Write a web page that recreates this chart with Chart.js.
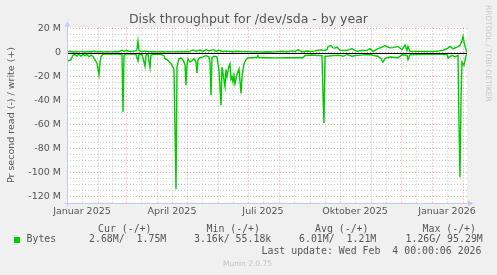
<!DOCTYPE html>
<html>
<head>
<meta charset="utf-8">
<script src="https://cdn.jsdelivr.net/npm/chart.js@4.4.1/dist/chart.umd.min.js"></script>
<style>
  html, body { margin: 0; padding: 0; background: #f0f0f0; }
  #wrap { position: relative; width: 497px; height: 275px; overflow: hidden; }
  canvas { position: absolute; left: 0; top: 0; }
  .t { position: absolute; white-space: pre; color: #555; line-height: 1; }
  .mono { font-family: "DejaVu Sans Mono", monospace; font-size: 9.9px; }
  .title { font-family: "DejaVu Sans", sans-serif; font-size: 12.5px; left: 0; width: 497px; text-align: center; top: 13.4px; }
  .foot { font-family: "DejaVu Sans", sans-serif; font-size: 7.5px; color: #c4c4c4; left: 223px; top: 260.3px; }
  .side { font-family: "DejaVu Sans", sans-serif; font-size: 7.5px; color: #c8c8c8; writing-mode: vertical-rl; left: 484.8px; top: 5px; }
  .box { position: absolute; left: 14px; top: 236.5px; width: 6px; height: 6px; background: #00cc00; }
</style>
</head>
<body>
<div id="wrap">
  <canvas id="disk-canvas" width="497" height="275"></canvas>
  <div class="t title">Disk throughput for /dev/sda - by year</div>
  <div class="t side">RRDTOOL / TOBI OETIKER</div>
  <div class="t mono" style="left:98px;top:223.5px">Cur (-/+)</div>
  <div class="t mono" style="left:206.5px;top:223.5px">Min (-/+)</div>
  <div class="t mono" style="left:315px;top:223.5px">Avg (-/+)</div>
  <div class="t mono" style="left:422.5px;top:223.5px">Max (-/+)</div>
  <div class="box"></div>
  <div class="t mono" style="left:26.5px;top:234px">Bytes</div>
  <div class="t mono" style="left:89px;top:234px">2.68M/  1.75M</div>
  <div class="t mono" style="left:194px;top:234px">3.16k/ 55.18k</div>
  <div class="t mono" style="left:299px;top:234px">6.01M/  1.21M</div>
  <div class="t mono" style="left:405.5px;top:234px">1.26G/ 95.29M</div>
  <div class="t mono" style="left:261.5px;top:246px">Last update: Wed Feb  4 00:00:06 2026</div>
  <div class="t foot">Munin 2.0.75</div>
</div>
<script>
// days counted from 1 Jan 2025, values in MB/s (read is negative)
const readDays = [0, 2, 4, 6, 8, 10, 12, 14, 16, 18, 20, 22, 24, 26, 28, 30, 32, 33, 34, 36, 40, 44, 48, 52, 55, 56, 57, 58, 62, 66, 69, 71, 72, 75, 77, 78, 79, 81, 83, 84, 86, 90, 94, 97, 98, 101, 104, 106, 107, 109, 110, 112, 114, 116, 118, 119, 120, 121, 123, 125, 127, 129, 130, 131, 133, 136, 139, 142, 143, 144, 145, 147, 150, 152, 154, 155, 156, 158, 159, 160, 162, 163, 164, 165, 166, 167, 168, 170, 172, 174, 175, 177, 179, 181, 186, 190, 191, 192, 200, 210, 220, 230, 236, 238, 245, 250, 255, 256, 257, 258, 262, 266, 270, 273, 276, 280, 285, 290, 296, 303, 306, 311, 314, 316, 318, 320, 323, 331, 335, 340, 341, 343, 350, 360, 370, 380, 381, 385, 388, 391, 392, 393, 394, 395, 397, 399, 400];
const readValues = [-7, -6.5, -6, -2, -1.5, -2.8, -1.2, -3, -1.5, -2.5, -1.5, -3.5, -2, -3.2, -6, -9, -18.5, -8, -3.5, -1.2, -1, -1.3, -0.9, -1.2, -1.5, -49.5, -3, -1, -1.2, -1, -1.5, -7, -1.5, -1.3, -7.8, -11.4, -2, -1.4, -12.5, -2, -1.4, -1.3, -1.4, -2.5, -5, -6.4, -9.2, -12, -14.5, -114, -12, -5, -4.5, -6, -10, -27.2, -10, -5, -7.8, -6.5, -5, -8, -17, -6, -4.2, -3.5, -2.5, -3.5, -8, -35.5, -4, -3, -3.5, -15, -44, -12, -17.5, -28.5, -14, -20, -11, -9, -22, -20, -24.5, -19, -26, -18, -13.5, -34, -20, -9, -6, -4.2, -4.2, -3.8, -2.3, -4, -4.2, -4.3, -4.2, -4.2, -4.2, -2.3, -2, -2.3, -2.5, -35, -58.6, -3, -2.8, -2.5, -2.2, -2.3, -3, -1.5, -3, -2.3, -1.8, -1.5, -2.3, -3, -5, -7.8, -5, -4.2, -3.6, -4.2, -1.8, -2.3, -5.8, -1.8, -1.6, -1.4, -1.4, -1.4, -4.4, -2.3, -3.6, -2.3, -60, -104, -40, -7.8, -10.6, -2.3, -1.5];
const writeDays = [0, 3, 6, 9, 12, 15, 18, 21, 24, 27, 30, 33, 36, 40, 44, 48, 52, 55, 57, 59, 62, 66, 69, 70, 71, 72, 74, 78, 82, 86, 90, 94, 98, 102, 106, 110, 114, 118, 122, 126, 129, 133, 136, 139, 142, 146, 149, 152, 155, 160, 165, 170, 175, 180, 185, 190, 195, 200, 205, 210, 215, 220, 225, 228, 231, 234, 237, 240, 244, 248, 251, 254, 257, 260, 261, 264, 266, 268, 270, 273, 276, 280, 285, 290, 294, 300, 303, 306, 311, 315, 318, 321, 323, 326, 331, 335, 338, 340, 341, 343, 350, 360, 370, 376, 380, 383, 386, 390, 393, 395, 396, 398, 400];
const writeValues = [0.8, 1.2, 0.6, 1.0, 0.7, 1.1, 0.6, 1.0, 0.8, 1.2, 0.7, 1.0, 0.6, 0.9, 0.7, 1.0, 0.8, 2.2, 1.0, 2.0, 1.0, 1.2, 1.5, 3, 9.6, 2, 1.0, 1.3, 0.8, 1.0, 0.7, 1.0, 0.6, 0.9, 0.7, 1.0, 0.8, 1.0, 0.8, 2.3, 1.2, 2.2, 1.0, 2.5, 1.4, 2.5, 1.2, 2.0, 1.0, 1.3, 0.8, 1.2, 0.9, 1.1, 0.7, 0.9, 0.6, 0.8, 0.5, 0.9, 1.2, 0.8, 1.5, 1.0, 2.6, 1.0, 0.8, 1.4, 1.0, 1.5, 2.0, 2.3, 1.8, 2.5, 5.2, 6.0, 4.0, 3.8, 4.7, 2.0, 1.9, 1.9, 3.3, 1.1, 1.8, 1.9, 3.3, 1.1, 3.3, 4.7, 6.0, 4.5, 4.0, 4.2, 5.2, 2.5, 6.3, 1.9, 5.2, 1.1, 1.1, 1.0, 1.1, 2.0, 3.3, 5.2, 3.3, 4.7, 6.0, 10, 13.6, 5, 0.5];

const monthStarts = [31, 59, 90, 120, 151, 181, 212, 243, 273, 304, 334, 365, 396];
const midMonths = [15, 45, 74, 105, 135, 166, 196, 227, 258, 288, 319, 349, 380];
const midLabels = ["Januar 2025", "", "", "April 2025", "", "", "Juli 2025", "", "", "Oktober 2025", "", "", "Januar 2026"];
const yTicks = [-120, -115, -110, -105, -100, -95, -90, -85, -80, -75, -70, -65, -60, -55, -50, -45, -40, -35, -30, -25, -20, -15, -10, -5, 0, 5, 10, 15, 20];

const GREEN = "#00cc00";
const MAJOR = "rgba(222, 110, 110, 0.6)";
const MINOR = "rgba(190, 190, 190, 0.8)";
const AXIS = "#c8c8f0";

const xTicks = monthStarts.concat(midMonths).sort((a, b) => a - b);

const muninFrame = {
  id: "muninFrame",
  beforeDraw(chart) {
    const { ctx, chartArea: a } = chart;
    ctx.save();
    ctx.fillStyle = "#f0f0f0";
    ctx.fillRect(0, 0, chart.width, chart.height);
    ctx.fillStyle = "#ffffff";
    ctx.fillRect(a.left, a.top, a.right - a.left, a.bottom - a.top);
    ctx.restore();
  },
  afterDatasetsDraw(chart) {
    const { ctx, chartArea: a, scales } = chart;
    const y0 = Math.round(scales.y.getPixelForValue(0)) + 0.5;
    ctx.save();
    // zero line
    ctx.strokeStyle = "#000";
    ctx.lineWidth = 1;
    ctx.beginPath();
    ctx.moveTo(a.left, y0);
    ctx.lineTo(a.right, y0);
    ctx.stroke();
    // axes with arrows
    const lx = Math.round(a.left) + 0.5;
    const by = Math.round(a.bottom) + 0.5;
    ctx.strokeStyle = AXIS;
    ctx.beginPath();
    ctx.moveTo(lx, by + 3);
    ctx.lineTo(lx, a.top - 3);
    ctx.moveTo(lx - 3, by);
    ctx.lineTo(a.right + 2, by);
    ctx.stroke();
    ctx.fillStyle = AXIS;
    ctx.beginPath();
    ctx.moveTo(lx - 3, a.top - 1);
    ctx.lineTo(lx + 3, a.top - 1);
    ctx.lineTo(lx, a.top - 6);
    ctx.closePath();
    ctx.fill();
    ctx.beginPath();
    ctx.moveTo(a.right + 1, by - 3);
    ctx.lineTo(a.right + 1, by + 3);
    ctx.lineTo(a.right + 6, by);
    ctx.closePath();
    ctx.fill();
    ctx.restore();
  },
};

const ctx = document.getElementById("disk-canvas").getContext("2d");
new Chart(ctx, {
  type: "line",
  data: {
    datasets: [
      {
        label: "read",
        data: readDays.map((d, i) => ({ x: d, y: readValues[i] })),
        borderColor: GREEN,
        borderWidth: 1.4,
        pointRadius: 0,
        tension: 0,
      },
      {
        label: "write",
        data: writeDays.map((d, i) => ({ x: d, y: writeValues[i] })),
        borderColor: GREEN,
        borderWidth: 1.4,
        pointRadius: 0,
        tension: 0,
      },
    ],
  },
  options: {
    responsive: false,
    animation: false,
    devicePixelRatio: 1,
    layout: { padding: { left: 0, top: 27.5, right: 30, bottom: 52.5 } },
    plugins: { legend: { display: false }, tooltip: { enabled: false } },
    scales: {
      x: {
        type: "linear",
        min: 0,
        max: 400,
        afterBuildTicks: (scale) => {
          scale.ticks = xTicks.map((v) => ({ value: v }));
        },
        afterFit: (scale) => {
          scale.height = 20;
        },
        border: { display: false, dash: [1, 2] },
        grid: {
          drawTicks: false,
          lineWidth: 1,
          color: (c) => (monthStarts.includes(c.tick.value) ? MAJOR : MINOR),
        },
        ticks: {
          autoSkip: false,
          maxRotation: 0,
          padding: 3,
          color: "#555",
          font: { family: "DejaVu Sans", size: 9.5 },
          callback: (v) => {
            const i = midMonths.indexOf(v);
            return i >= 0 ? midLabels[i] : "";
          },
        },
      },
      y: {
        min: -125,
        max: 21,
        afterBuildTicks: (scale) => {
          scale.ticks = yTicks.map((v) => ({ value: v }));
        },
        afterFit: (scale) => {
          scale.width = 67;
        },
        border: { display: false, dash: [1, 2] },
        grid: {
          drawTicks: false,
          lineWidth: 1,
          color: (c) => (c.tick.value % 20 === 0 ? MAJOR : MINOR),
        },
        ticks: {
          autoSkip: false,
          padding: 6,
          color: "#555",
          font: { family: "DejaVu Sans", size: 9.5 },
          callback: (v) => (v === 0 ? "0" : v % 20 === 0 ? v + " M" : ""),
        },
        title: {
          display: true,
          text: "Pr second read (-) / write (+)",
          color: "#555",
          font: { family: "DejaVu Sans", size: 9.5 },
          padding: { top: 6, bottom: 0 },
        },
      },
    },
  },
  plugins: [muninFrame],
});
</script>
</body>
</html>
